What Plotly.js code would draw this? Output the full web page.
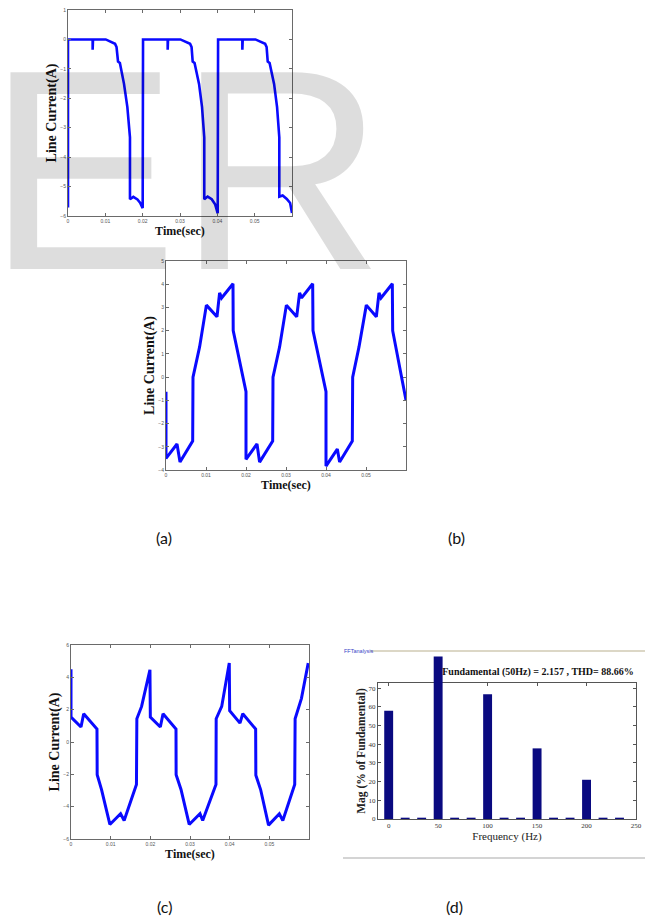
<!DOCTYPE html>
<html>
<head>
<meta charset="utf-8">
<script src="https://cdn.plot.ly/plotly-3.0.1.min.js"></script>
<style>
  html, body { margin: 0; padding: 0; background: #ffffff; }
  #chart { width: 645px; height: 916px; }
</style>
</head>
<body>
<div id="chart"></div>
<script>
// ---------- data ----------
// (a) line current vs time
const aTime = [0, 0, 0.0066, 0.0066, 0.0067, 0.0101, 0.0113, 0.0126, 0.0130, 0.0134, 0.0139, 0.0150, 0.0159, 0.0166, 0.0166, 0.0175, 0.0186, 0.0193, 0.0200,
  0.0201, 0.0267, 0.0267, 0.0268, 0.0301, 0.0313, 0.0327, 0.0331, 0.0334, 0.0339, 0.0351, 0.0359, 0.0365, 0.0365, 0.0374, 0.0385, 0.0394, 0.0401,
  0.0402, 0.0467, 0.0467, 0.0468, 0.0502, 0.0514, 0.0528, 0.0532, 0.0535, 0.0540, 0.0552, 0.0560, 0.0566, 0.0566, 0.0575, 0.0586, 0.0595, 0.0600];
const aCurrent = [-5.71, 0, 0, -0.35, 0, 0, -0.06, -0.15, -0.26, -0.75, -0.80, -1.51, -2.30, -3.33, -5.43, -5.35, -5.44, -5.55, -5.73,
  0, 0, -0.35, 0, 0, -0.06, -0.15, -0.26, -0.75, -0.80, -1.51, -2.30, -3.33, -5.43, -5.34, -5.43, -5.60, -5.91,
  0, 0, -0.35, 0, 0, -0.06, -0.15, -0.26, -0.75, -0.80, -1.51, -2.30, -3.33, -5.34, -5.30, -5.42, -5.56, -5.90];

// (b) line current vs time
const bTime = [0, 0, 0.00275, 0.0035, 0.00667, 0.00675, 0.0084, 0.0101, 0.01275, 0.0134, 0.0139, 0.01675, 0.0168, 0.0200, 0.0200,
  0.02275, 0.0234, 0.02667, 0.02675, 0.0284, 0.0301, 0.03267, 0.0334, 0.0339, 0.03667, 0.03675, 0.0400, 0.0400,
  0.04283, 0.0434, 0.04658, 0.04667, 0.04825, 0.05008, 0.05258, 0.05325, 0.05375, 0.05658, 0.05667, 0.0600];
const bCurrent = [-0.63, -3.50, -2.88, -3.66, -2.75, 0.0, 1.3, 3.1, 2.6, 3.63, 3.41, 4.02, 2.0, -0.63, -3.54,
  -2.88, -3.66, -2.75, 0, 1.3, 3.1, 2.6, 3.63, 3.41, 4.02, 2.0, -0.63, -3.83,
  -3.1, -3.66, -2.75, 0, 1.3, 3.1, 2.6, 3.63, 3.41, 4.02, 2.0, -0.99];

// (c) line current vs time
const cTime = [0, 0, 0.00252, 0.0032, 0.00655, 0.0066, 0.0077, 0.0098, 0.0125, 0.0134, 0.0165, 0.0166, 0.0178, 0.0199, 0.0200,
  0.02252, 0.0232, 0.02647, 0.0265, 0.02773, 0.0298, 0.03252, 0.0332, 0.03655, 0.0366, 0.0380, 0.0399, 0.0400,
  0.0426, 0.0433, 0.04655, 0.0466, 0.0478, 0.0498, 0.05252, 0.0534, 0.0564, 0.0565, 0.0581, 0.0598];
const cCurrent = [4.5, 1.54, 0.93, 1.75, 0.80, -2.02, -2.94, -5.1, -4.44, -4.86, -2.63, 1.44, 2.2, 4.47, 1.54,
  0.93, 1.75, 0.80, -2.02, -2.94, -5.1, -4.44, -4.86, -2.63, 1.44, 2.2, 4.88, 1.93,
  1.17, 1.75, 0.80, -2.06, -2.94, -5.14, -4.44, -4.86, -2.63, 1.44, 2.7, 4.88];

// (d) FFT spectrum (% of fundamental, as drawn)
const dFreq = [0, 16.67, 33.33, 50, 66.67, 83.33, 100, 116.67, 133.33, 150, 166.67, 183.33, 200, 216.67, 233.33];
const dMag  = [57.9, 0.7, 0.7, 87.0, 0.7, 0.7, 66.8, 0.7, 0.7, 37.8, 0.7, 0.7, 21.0, 0.7, 0.7];

// tick labels
const timeTicks = [0, 0.01, 0.02, 0.03, 0.04, 0.05];
const timeTickText = ['0', '0.01', '0.02', '0.03', '0.04', '0.05'];
const aYTicks = [1, 0, -1, -2, -3, -4, -5, -6];
const bYTicks = [5, 4, 3, 2, 1, 0, -1, -2, -3, -4];
const cYTicks = [6, 4, 2, 0, -2, -4, -6];
const dXTicks = [0, 50, 100, 150, 200, 250];
const dYTicks = [0, 10, 20, 30, 40, 50, 60, 70];

const titleText = 'Fundamental (50Hz) = 2.157 , THD= 88.66%';
const lineTitle = 'Line Current(A)';
const timeTitle = 'Time(sec)';
const magTitle = 'Mag (% of Fundamental)';
const freqTitle = 'Frequency (Hz)';
const captions = ['(a)', '(b)', '(c)', '(d)'];

// ---------- layout helpers ----------
const W = 645, H = 916;
const px = v => v / W;
const py = v => 1 - v / H;

const serif = 'Liberation Serif, Times New Roman, serif';
const blue = '#0a0aff';

function waveAxis(dom, anchor, extra) {
  return Object.assign({
    domain: dom, anchor: anchor,
    showline: true, mirror: 'ticks', linecolor: '#6a6a6a', linewidth: 1,
    ticks: 'inside', ticklen: 3, tickcolor: '#6a6a6a',
    showgrid: false, zeroline: false, fixedrange: true,
    tickfont: { family: 'Liberation Sans, Arial, sans-serif', size: 5, color: '#555' }
  }, extra);
}

// FFT plot frame: y range 0..72.8 over 683..819 px; bars are drawn in an
// overlaid, taller hidden subplot with the same scale so the fundamental bar
// can rise above the frame as in the reference.
const dTop = 683, dBot = 819, dYMax = 72.8, dOverTop = 651;
const dOverMax = dYMax * (dBot - dOverTop) / (dBot - dTop);

const traces = [
  { x: aTime, y: aCurrent, xaxis: 'x', yaxis: 'y', type: 'scatter', mode: 'lines',
    line: { color: blue, width: 2.6 }, hoverinfo: 'skip' },
  { x: bTime, y: bCurrent, xaxis: 'x2', yaxis: 'y2', type: 'scatter', mode: 'lines',
    line: { color: blue, width: 3 }, hoverinfo: 'skip' },
  { x: cTime, y: cCurrent, xaxis: 'x3', yaxis: 'y3', type: 'scatter', mode: 'lines',
    line: { color: blue, width: 3 }, hoverinfo: 'skip' },
  // empty trace so the FFT frame axes are drawn
  { x: [], y: [], xaxis: 'x4', yaxis: 'y4', type: 'scatter', mode: 'lines', hoverinfo: 'skip' },
  { x: dFreq, y: dMag, xaxis: 'x5', yaxis: 'y5', type: 'bar', width: 9,
    marker: { color: '#0a0a80', line: { width: 0 } }, hoverinfo: 'skip' }
];

const ytitleFont = { family: serif, size: 14, color: '#111', weight: 'bold' };
const xtitleFont = { family: serif, size: 12, color: '#111', weight: 'bold' };

const layout = {
  width: W, height: H,
  margin: { l: 0, r: 0, t: 0, b: 0, pad: 0 },
  paper_bgcolor: '#ffffff', plot_bgcolor: 'rgba(0,0,0,0)',
  showlegend: false,
  title: { text: titleText, x: 538 / W, y: py(671), xref: 'paper', yref: 'paper',
           xanchor: 'center', yanchor: 'middle',
           font: { family: serif, size: 10, color: '#111', weight: 'bold' } },

  // (a)
  xaxis: waveAxis([px(68), px(292)], 'y', { range: [0, 0.06], tickvals: timeTicks, ticktext: timeTickText,
    title: { text: timeTitle, font: xtitleFont, standoff: 3 } }),
  yaxis: waveAxis([py(216), py(10)], 'x', { range: [-6, 1], tickvals: aYTicks,
    title: { text: lineTitle, font: ytitleFont, standoff: 0 } }),
  // (b)
  xaxis2: waveAxis([px(166), px(406)], 'y2', { range: [0, 0.06], tickvals: timeTicks, ticktext: timeTickText,
    title: { text: timeTitle, font: xtitleFont, standoff: 3 } }),
  yaxis2: waveAxis([py(470), py(261)], 'x2', { range: [-4, 5], tickvals: bYTicks,
    title: { text: lineTitle, font: ytitleFont, standoff: 0 } }),
  // (c)
  xaxis3: waveAxis([px(71), px(309)], 'y3', { range: [0, 0.06], tickvals: timeTicks, ticktext: timeTickText,
    title: { text: timeTitle, font: xtitleFont, standoff: 3 } }),
  yaxis3: waveAxis([py(839), py(645)], 'x3', { range: [-6, 6], tickvals: cYTicks,
    title: { text: lineTitle, font: ytitleFont, standoff: 0 } }),
  // (d) visible frame
  xaxis4: waveAxis([px(378), px(636)], 'y4', { range: [-10.8, 250], tickvals: dXTicks,
    linecolor: '#555', tickcolor: '#555',
    tickfont: { family: serif, size: 7, color: '#333' },
    title: { text: freqTitle, font: { family: serif, size: 11, color: '#222' }, standoff: 2 } }),
  yaxis4: waveAxis([py(dBot), py(dTop)], 'x4', { range: [0, dYMax], tickvals: dYTicks,
    linecolor: '#555', tickcolor: '#555',
    tickfont: { family: serif, size: 7, color: '#333' },
    title: { text: magTitle, font: { family: serif, size: 11.5, color: '#222', weight: 'bold' }, standoff: 0 } }),
  // (d) bar layer (same scale, hidden axes)
  xaxis5: { domain: [px(378), px(636)], anchor: 'y5', range: [-10.8, 250], visible: false, fixedrange: true },
  yaxis5: { domain: [py(dBot), py(dOverTop)], anchor: 'x5', range: [0, dOverMax], visible: false, fixedrange: true },

  shapes: [
    { type: 'line', xref: 'paper', yref: 'paper', x0: px(370), x1: px(645), y0: py(651), y1: py(651),
      line: { color: '#dcd7c6', width: 2 } },
    { type: 'line', xref: 'paper', yref: 'paper', x0: px(343), x1: px(645), y0: py(858), y1: py(858),
      line: { color: '#d4d4d4', width: 2 } }
  ],

  annotations: [
    { text: 'FFTanalysis', xref: 'paper', yref: 'paper', x: px(342), y: py(651),
      xanchor: 'left', yanchor: 'middle', showarrow: false,
      font: { family: 'Liberation Sans, Arial, sans-serif', size: 5.5, color: '#3a45c8' } },
    { text: captions[0], xref: 'paper', yref: 'paper', x: px(164), y: py(537), xanchor: 'center', yanchor: 'middle',
      showarrow: false, font: { family: 'Lato, Open Sans, sans-serif', size: 16, color: '#111' } },
    { text: captions[1], xref: 'paper', yref: 'paper', x: px(456), y: py(537), xanchor: 'center', yanchor: 'middle',
      showarrow: false, font: { family: 'Lato, Open Sans, sans-serif', size: 16, color: '#111' } },
    { text: captions[2], xref: 'paper', yref: 'paper', x: px(164), y: py(906), xanchor: 'center', yanchor: 'middle',
      showarrow: false, font: { family: 'Lato, Open Sans, sans-serif', size: 16, color: '#111' } },
    { text: captions[3], xref: 'paper', yref: 'paper', x: px(454), y: py(906), xanchor: 'center', yanchor: 'middle',
      showarrow: false, font: { family: 'Lato, Open Sans, sans-serif', size: 16, color: '#111' } },
    // watermark
    { text: 'ER', xref: 'paper', yref: 'paper', x: px(-15), y: py(332), xanchor: 'left', yanchor: 'bottom',
      showarrow: false, font: { family: 'Liberation Sans, Arial, sans-serif', size: 286, color: 'rgba(0,0,0,0.135)' } }
  ]
};

Plotly.newPlot('chart', traces, layout, { staticPlot: true, displayModeBar: false });
</script>
</body>
</html>
